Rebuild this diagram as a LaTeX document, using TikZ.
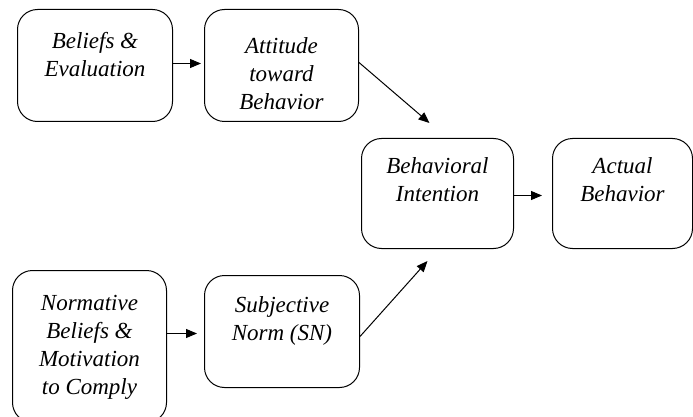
\documentclass[tikz,border=0pt]{standalone}
\usepackage{fontspec}
\setmainfont{Liberation Serif}[ItalicFont={Liberation Serif Italic}]
\usetikzlibrary{arrows.meta}

% width, height, first baseline, text
\newcommand{\boxtext}[4]{\parbox[c][#2][t]{#1}{\centering\rule{0pt}{#3}#4}}

\tikzset{
  model/.style={draw, line width=1pt, rounded corners=20pt, inner sep=0pt,
    anchor=north west, font=\fontsize{23}{28}\selectfont\itshape},
  arr/.style={line width=1pt, -{Triangle[length=11pt, width=9pt]}}
}

\begin{document}
\begin{tikzpicture}[x=1pt, y=-1pt]
    \useasboundingbox (0,0) rectangle (693,417);
    % upper path
    \node[model] (beliefs) at (17,9) {\boxtext{155pt}{112pt}{39pt}{Beliefs \&\\Evaluation}};
    \node[model] (attitude) at (204,9) {\boxtext{154pt}{112pt}{44pt}{Attitude\\toward\\Behavior}};
    % middle
    \node[model] (intention) at (361,138) {\boxtext{152pt}{110pt}{35pt}{Behavioral\\Intention}};
    \node[model] (behavior) at (552,138) {\boxtext{140pt}{110pt}{35pt}{Actual\\Behavior}};
    % lower path
    \node[model] (normative) at (12,270) {\boxtext{154pt}{152pt}{40pt}{Normative\\Beliefs \&\\Motivation\\to Comply}};
    \node[model] (norm) at (204,275) {\boxtext{155pt}{112pt}{37pt}{Subjective\\Norm (SN)}};

    \draw[arr, shorten >=3pt] ([yshift=2pt]beliefs.east) -- ([yshift=2pt]attitude.west);
    \draw[arr] ([yshift=3pt]attitude.east) -- ([xshift=-8pt, yshift=15pt]intention.north);
    \draw[arr, shorten >=10pt] ([yshift=-2pt]intention.east) -- ([yshift=-2pt]behavior.west);
    \draw[arr, shorten >=7pt] ([yshift=-2pt]normative.east |- norm.west) -- ([yshift=-2pt]norm.west);
    \draw[arr] ([yshift=-5pt]norm.east) -- ([xshift=-10pt, yshift=-12pt]intention.south);
\end{tikzpicture}
\end{document}
